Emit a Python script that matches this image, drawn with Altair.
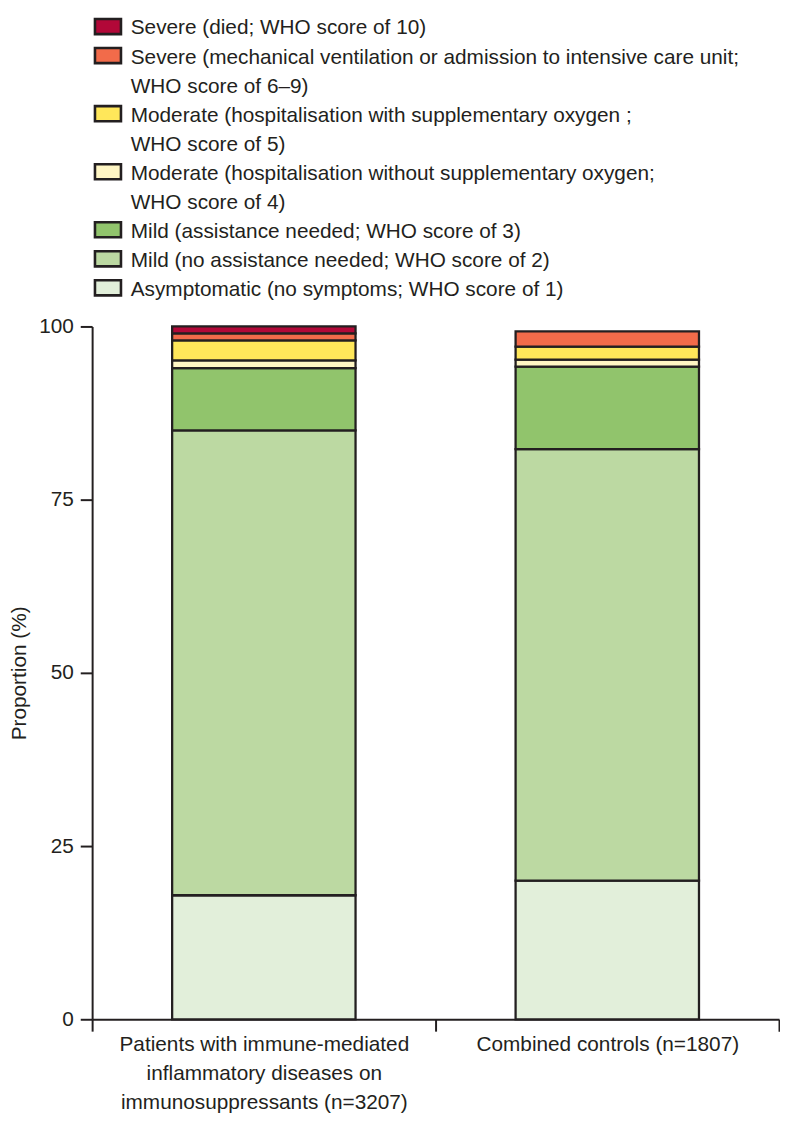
import altair as alt
import pandas as pd

FONT = "Liberation Sans, Arial, sans-serif"
INK = "#231f20"

groups = [
    "Patients with immune-mediated inflammatory diseases on immunosuppressants (n=3207)",
    "Combined controls (n=1807)",
]
group_lines = [
    ["Patients with immune-mediated", "inflammatory diseases on", "immunosuppressants (n=3207)"],
    ["Combined controls (n=1807)"],
]

categories = [
    "Asymptomatic",
    "Mild (no assistance)",
    "Mild (assistance)",
    "Moderate (no oxygen)",
    "Moderate (oxygen)",
    "Severe (ventilation/ICU)",
    "Severe (died)",
]
colors = ["#e2efda", "#bcd9a2", "#91c46c", "#fff6c4", "#ffe75a", "#f26b4a", "#b20838"]

# percentages, bottom to top
patients = [17.9, 67.1, 9.0, 1.1, 2.9, 1.0, 1.0]
controls = [20.0, 62.3, 11.9, 1.0, 1.9, 2.2, 0.0]

legend_lines = [
    "Severe (died; WHO score of 10)",
    "Severe (mechanical ventilation or admission to intensive care unit;",
    "WHO score of 6\u20139)",
    "Moderate (hospitalisation with supplementary oxygen ;",
    "WHO score of 5)",
    "Moderate (hospitalisation without supplementary oxygen;",
    "WHO score of 4)",
    "Mild (assistance needed; WHO score of 3)",
    "Mild (no assistance needed; WHO score of 2)",
    "Asymptomatic (no symptoms; WHO score of 1)",
]
legend_swatch_line = {
    "Severe (died)": 0,
    "Severe (ventilation/ICU)": 1,
    "Moderate (oxygen)": 3,
    "Moderate (no oxygen)": 5,
    "Mild (assistance)": 7,
    "Mild (no assistance)": 8,
    "Asymptomatic": 9,
}

rows = []
for g, vals in zip(groups, [patients, controls]):
    for i, (c, v) in enumerate(zip(categories, vals)):
        if v > 0:
            rows.append({"group": g, "category": c, "value": v, "ord": i})
bars_df = pd.DataFrame(rows)

text_df = pd.DataFrame({"line": list(range(len(legend_lines))), "text": legend_lines})
sw_df = pd.DataFrame({"category": list(legend_swatch_line.keys()),
                      "line": list(legend_swatch_line.values())})

color_scale = alt.Scale(domain=categories, range=colors)
# legend rows sit above the plot area (negative pixel offsets from its top)
leg_y = alt.Scale(domain=[0, 9], range=[-301, -37])

leg_text = alt.Chart(text_df).mark_text(
    align="left", baseline="middle", font=FONT, fontSize=21, color=INK
).encode(x=alt.value(39), y=alt.Y("line:Q", scale=leg_y, axis=None), text="text:N")

leg_sw = alt.Chart(sw_df).mark_point(
    shape="M-1,-0.58L1,-0.58L1,0.58L-1,0.58Z", filled=True, size=690,
    stroke=INK, strokeWidth=2.6, opacity=1, yOffset=-2
).encode(
    x=alt.value(16),
    y=alt.Y("line:Q", scale=leg_y, axis=None),
    color=alt.Color("category:N", scale=color_scale, legend=None),
)

label_map = " : ".join(
    f"datum.label == '{g}' ? {lines!r}" for g, lines in zip(groups, group_lines)
) + " : datum.label"

bars = alt.Chart(bars_df).mark_bar(
    width=alt.RelativeBandSize(0.534), stroke=INK, strokeWidth=2.3
).encode(
    x=alt.X("group:N", sort=groups, scale=alt.Scale(paddingInner=0, paddingOuter=0),
            axis=alt.Axis(title=None, labelAngle=0, tickBand="extent",
                          labelExpr=label_map, labelLineHeight=29, labelLimit=500,
                          labelPadding=3, labelBaseline="top")),
    y=alt.Y("value:Q", stack="zero", scale=alt.Scale(domain=[0, 100], nice=False),
            axis=alt.Axis(title="Proportion (%)", values=[0, 25, 50, 75, 100],
                          grid=False, titlePadding=9, labelPadding=7)),
    color=alt.Color("category:N", scale=color_scale, legend=None),
    order=alt.Order("ord:Q", sort="ascending"),
)

chart = alt.layer(bars, leg_sw, leg_text).resolve_scale(y="independent").properties(
    width=694, height=700, padding=0
).configure_view(
    stroke=None
).configure_axis(
    labelFont=FONT, titleFont=FONT, labelFontSize=21, titleFontSize=21,
    titleFontWeight="normal", labelColor=INK, titleColor=INK,
    domainColor=INK, domainWidth=2, tickColor=INK, tickWidth=2, tickSize=12,
)

chart.save("out.html", embed_options={"renderer": "svg", "actions": False})
